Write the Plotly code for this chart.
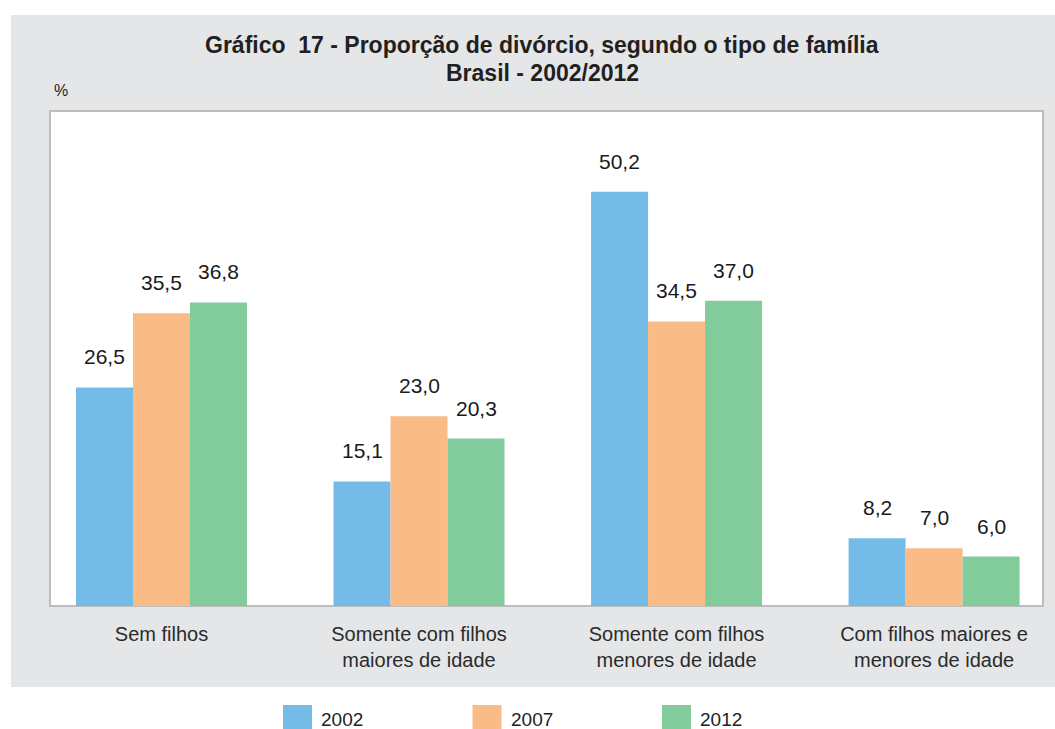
import plotly.graph_objects as go

categories = [
    "Sem filhos",
    "Somente com filhos<br>maiores de idade",
    "Somente com filhos<br>menores de idade",
    "Com filhos maiores e<br>menores de idade",
]
years = ["2002", "2007", "2012"]
values_2002 = [26.5, 15.1, 50.2, 8.2]
values_2007 = [35.5, 23.0, 34.5, 7.0]
values_2012 = [36.8, 20.3, 37.0, 6.0]
series = [values_2002, values_2007, values_2012]
colors = ["#74BCE7", "#F9BC86", "#82CC9B"]

W, H = 1055, 729
L, R, T, B = 50, 12, 111, 123
pw, ph = W - L - R, H - T - B
BARGAP = 0.336
FONT = "Liberation Sans, Arial, sans-serif"


def px_x(x):
    return (x - L) / pw


def px_y(y):
    return (H - B - y) / ph


fig = go.Figure()
for name, vals, col in zip(years, series, colors):
    fig.add_trace(go.Bar(
        name=name, x=categories, y=vals, marker=dict(color=col, line=dict(width=0)),
        showlegend=False, hoverinfo="x+y+name",
    ))

# value labels above bars
bw = (1 - BARGAP) / len(series)
for j, vals in enumerate(series):
    for i, v in enumerate(vals):
        fig.add_annotation(
            x=i + (j - (len(series) - 1) / 2) * bw, y=v, xref="x", yref="y",
            text=f"{v:.1f}".replace(".", ","), showarrow=False,
            yanchor="bottom", yshift=17,
            font=dict(family=FONT, size=21, color="#1a1a1a"),
        )

shapes = [
    # gray panel
    dict(type="rect", xref="paper", yref="paper", x0=px_x(11), x1=px_x(1056),
         y0=px_y(687), y1=px_y(15), fillcolor="#E5E6E8", line=dict(width=0), layer="below"),
    # white plot area
    dict(type="rect", xref="paper", yref="paper", x0=0, x1=1, y0=0, y1=1,
         fillcolor="white", line=dict(color="#BDBDBD", width=2), layer="below"),
]

# custom legend
for k, (name, col) in enumerate(zip(years, colors)):
    x0 = 283 + k * 189.5
    shapes.append(dict(type="rect", xref="paper", yref="paper",
                       x0=px_x(x0), x1=px_x(x0 + 29), y0=px_y(730), y1=px_y(705),
                       fillcolor=col, line=dict(width=0)))
    fig.add_annotation(x=px_x(x0 + 36), y=px_y(719), xref="paper", yref="paper",
                       text=name, showarrow=False, xanchor="left", yanchor="middle",
                       font=dict(family=FONT, size=19, color="#222222"))

fig.add_annotation(x=px_x(542), y=px_y(45), xref="paper", yref="paper",
                   text="<b>Gráfico  17 - Proporção de divórcio, segundo o tipo de família</b>",
                   showarrow=False, xanchor="center", yanchor="middle",
                   font=dict(family=FONT, size=23, color="#231F20"))
fig.add_annotation(x=px_x(542), y=px_y(73), xref="paper", yref="paper",
                   text="<b>Brasil - 2002/2012</b>",
                   showarrow=False, xanchor="center", yanchor="middle",
                   font=dict(family=FONT, size=23, color="#231F20"))
fig.add_annotation(x=px_x(52), y=px_y(91), xref="paper", yref="paper",
                   text="%", showarrow=False, xanchor="left", yanchor="middle",
                   font=dict(family=FONT, size=16, color="#231F20"))

fig.update_layout(
    width=W, height=H, autosize=False,
    margin=dict(l=L, r=R, t=T, b=B, pad=0),
    paper_bgcolor="white", plot_bgcolor="rgba(0,0,0,0)",
    barmode="group", bargap=BARGAP, bargroupgap=0,
    shapes=shapes,
    font=dict(family=FONT),
)
fig.update_xaxes(
    range=[-0.433, 3.423], showgrid=False, showline=False, zeroline=False,
    ticks="", ticklabelstandoff=14,
    tickfont=dict(family=FONT, size=20, color="#2b2b2b"),
)
fig.update_yaxes(range=[0, 60], showgrid=False, showline=False, zeroline=False,
                 showticklabels=False, ticks="")

fig.write_html(
    "out.html",
    config={"displayModeBar": False},
    post_script="document.body.style.margin='0px';document.body.style.overflow='hidden';",
)
